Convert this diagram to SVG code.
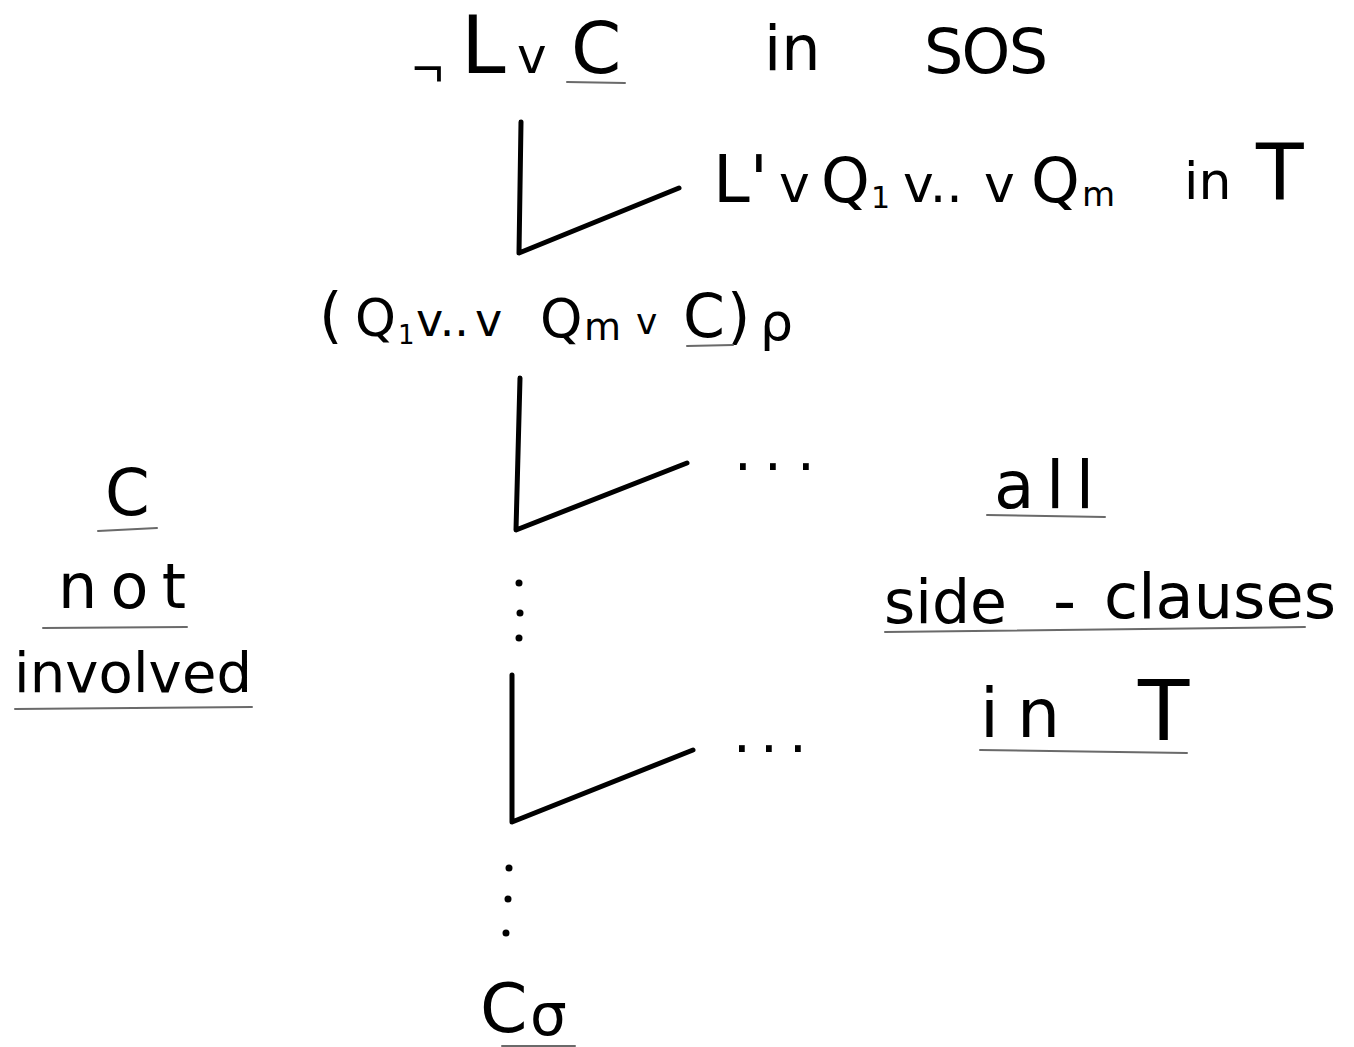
<svg xmlns="http://www.w3.org/2000/svg" width="1354" height="1047" viewBox="0 0 1354 1047">
<style>
text{font-family:"DejaVu Sans","Liberation Sans",sans-serif;fill:#000;}
.ul{stroke:#6a6a6a;stroke-width:2;fill:none;stroke-linecap:round;}
.ln{stroke:#000;stroke-width:5;fill:none;stroke-linecap:round;stroke-linejoin:round;}
.dot{fill:#000;}
</style>
<rect width="1354" height="1047" fill="#fff"/>
<g id="connectors">
<path class="ln" d="M521,122 L519,253 L679,188"/>
<path class="ln" d="M520,378 L516,530 L687,463"/>
<path class="ln" d="M512,675 L512,822 L693,750"/>
<circle class="dot" cx="519" cy="583" r="3.5"/>
<circle class="dot" cx="520" cy="613" r="3.5"/>
<circle class="dot" cx="519" cy="638" r="3.5"/>
<circle class="dot" cx="509" cy="868" r="3.5"/>
<circle class="dot" cx="508" cy="899" r="3.5"/>
<circle class="dot" cx="506" cy="933" r="3.5"/>
</g>
<g id="node-top">
<text x="412" y="86" font-size="54" style="font-family:'Liberation Sans',sans-serif">¬</text>
<text x="461" y="73" font-size="80">L</text>
<text x="517" y="73" font-size="50">v</text>
<text x="571" y="73" font-size="72">C</text>
<line class="ul" x1="567" y1="82" x2="625" y2="83"/>
<text x="764" y="70" font-size="62">in</text>
<text x="924" y="73" font-size="62" textLength="124" lengthAdjust="spacing">SOS</text>
</g>
<g id="node-side-clause">
<text x="713" y="202" font-size="66">L'</text>
<text x="779" y="202" font-size="52">v</text>
<text x="821" y="202" font-size="62">Q</text>
<text x="871" y="208" font-size="30">1</text>
<text x="903" y="202" font-size="52">v..</text>
<text x="984" y="202" font-size="52">v</text>
<text x="1031" y="202" font-size="62">Q</text>
<text x="1082" y="206" font-size="34">m</text>
<text x="1184" y="199" font-size="52">in</text>
<text x="1256" y="200" font-size="78">T</text>
</g>
<g id="node-resolvent">
<text x="319" y="336" font-size="60">(</text>
<text x="355" y="336" font-size="52">Q</text>
<text x="398" y="344" font-size="26">1</text>
<text x="416" y="336" font-size="46">v..</text>
<text x="475" y="336" font-size="46">v</text>
<text x="540" y="337" font-size="54">Q</text>
<text x="584" y="340" font-size="38">m</text>
<text x="636" y="334" font-size="36">v</text>
<text x="683" y="337" font-size="60">C</text>
<text x="727" y="337" font-size="60">)</text>
<text x="760" y="340" font-size="52">ρ</text>
<line class="ul" x1="687" y1="346" x2="733" y2="345"/>
</g>
<g id="node-dots-1">
<text y="470" font-size="56" x="734 764 797">...</text>
</g>
<g id="node-dots-2">
<text y="752" font-size="56" x="733 760 789">...</text>
</g>
<g id="label-left">
<text x="105" y="515" font-size="64">C</text>
<line class="ul" x1="98" y1="531" x2="157" y2="528"/>
<text x="58" y="608" font-size="62" textLength="128" lengthAdjust="spacing">not</text>
<line class="ul" x1="43" y1="628" x2="187" y2="627"/>
<text x="14" y="692" font-size="56" textLength="238" lengthAdjust="spacing">involved</text>
<line class="ul" x1="15" y1="709" x2="252" y2="707"/>
</g>
<g id="label-right">
<text x="994" y="508" font-size="66" textLength="100" lengthAdjust="spacing">all</text>
<line class="ul" x1="987" y1="515" x2="1105" y2="517"/>
<text x="884" y="623" font-size="60" textLength="123" lengthAdjust="spacing">side</text>
<text x="1053" y="623" font-size="64">-</text>
<text x="1104" y="618" font-size="62" textLength="232" lengthAdjust="spacing">clauses</text>
<line class="ul" x1="885" y1="632" x2="1305" y2="627"/>
<text x="980" y="737" font-size="68" textLength="80" lengthAdjust="spacing">in</text>
<text x="1138" y="740" font-size="84">T</text>
<line class="ul" x1="980" y1="750" x2="1187" y2="753"/>
</g>
<g id="node-result">
<text x="480" y="1032" font-size="68">C</text>
<text x="530" y="1035" font-size="58">σ</text>
<line class="ul" x1="502" y1="1046" x2="575" y2="1046"/>
</g>
</svg>
